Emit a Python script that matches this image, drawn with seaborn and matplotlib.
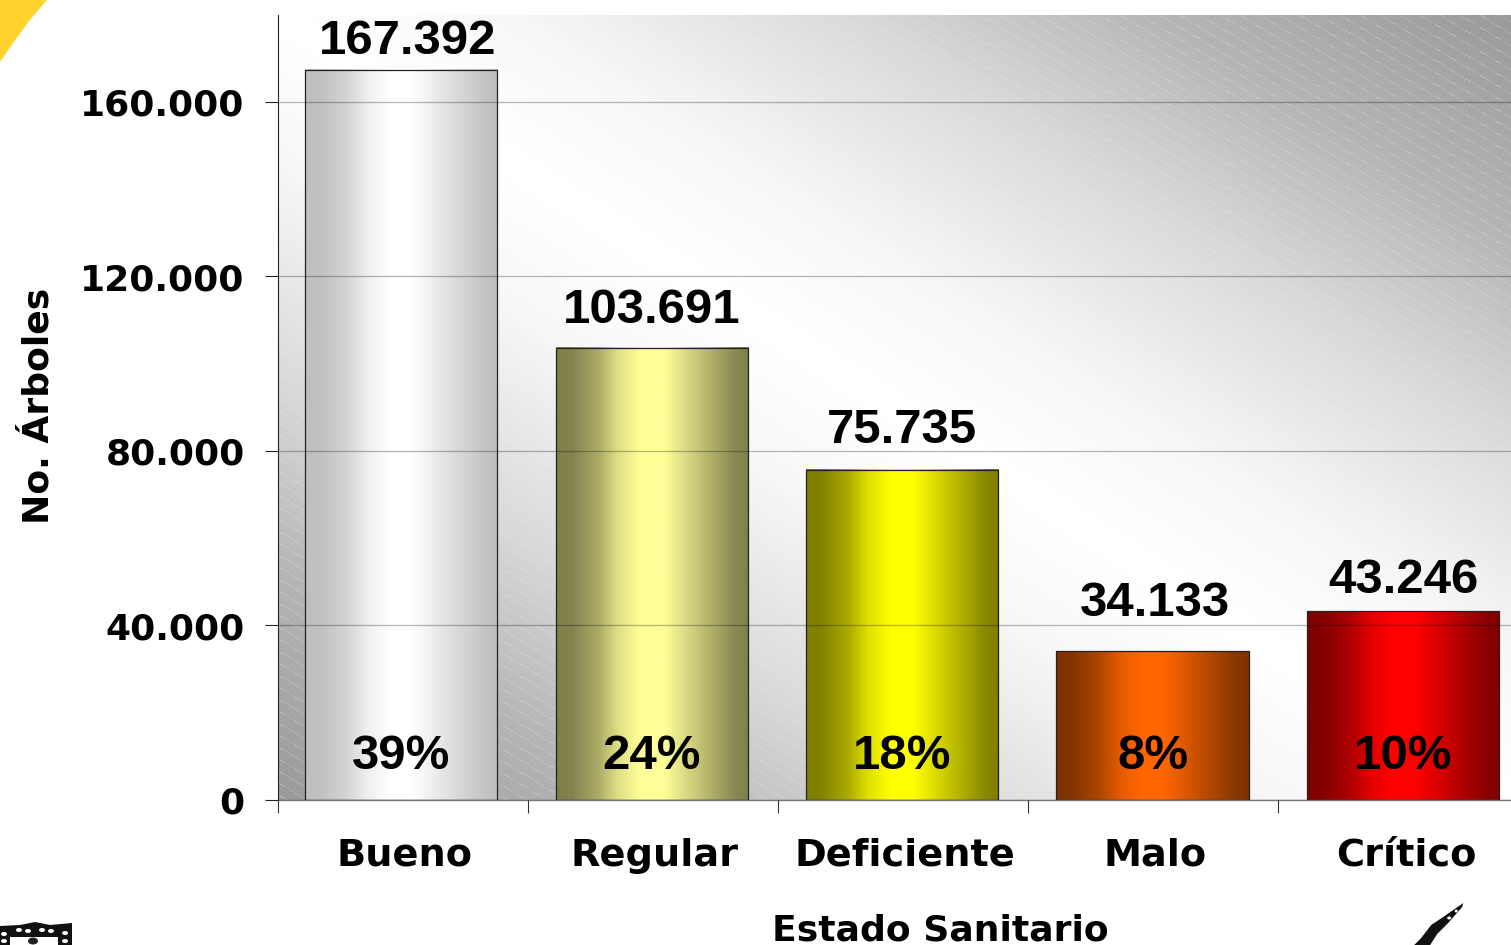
import numpy as np
import pandas as pd
import seaborn as sns
import matplotlib.pyplot as plt
from matplotlib.colors import to_rgb
from matplotlib.patches import Polygon, Ellipse
from matplotlib.transforms import ScaledTranslation

# Datos del grafico
estados = ["Bueno", "Regular", "Deficiente", "Malo", "Crítico"]
arboles = [167392, 103691, 75735, 34133, 43246]
etiquetas = ["167.392", "103.691", "75.735", "34.133", "43.246"]
porcentajes = ["39%", "24%", "18%", "8%", "10%"]
yticks = [0, 40000, 80000, 120000, 160000]
yticklabels = ["0", "40.000", "80.000", "120.000", "160.000"]

colores_claros = ["#FFFFFF", "#FFFF99", "#FFFF00", "#FF6600", "#FF0000"]
colores_oscuros = ["#BFBFBF", "#7F7F4C", "#7F7F00", "#7F3300", "#7F0000"]

W, H = 1511, 945
sns.set_theme(style="white")
plt.rcParams["font.family"] = ["DejaVu Sans"]

df = pd.DataFrame({"estado": estados, "arboles": arboles})

fig = plt.figure(figsize=((W + 0.2) / 100, (H + 0.2) / 100), dpi=100)
ax = fig.add_axes([278 / W, (H - 800) / H, 1250 / W, 785.25 / H])

sns.barplot(data=df, x="estado", y="arboles", hue="estado", palette=colores_claros,
            width=0.768, legend=False, ax=ax, zorder=3)

# Fondo con degradado diagonal y rayas finas
alto, ancho = 786, 1250
yy, xx = np.mgrid[0:alto, 0:ancho]
d = np.abs(xx / 1233 - yy / 786)
gris = np.interp(d, [0, 0.18, 0.27, 0.47, 0.7, 1.0], [255, 247, 238, 216, 182, 153])
rayas = ((yy - 0.6 * xx) % 12 < 1.0) & ((xx + yy) % 3 != 0)
gris = np.where(rayas & (gris < 232), gris + 0.38 * (235 - gris), gris)
ax.imshow(gris, cmap="gray", vmin=0, vmax=255, extent=(0, 1, 0, 1), transform=ax.transAxes,
          aspect="auto", interpolation="nearest", zorder=0)

# Degradado horizontal de cada barra
pos = np.linspace(0, 1, 200)
for barra, claro, oscuro in zip(ax.patches, colores_claros, colores_oscuros):
    c1, c2 = np.array(to_rgb(oscuro)), np.array(to_rgb(claro))
    t = np.interp(pos, [0, 0.08, 0.22, 0.32, 0.44, 0.56, 0.68, 0.82, 0.93, 1],
                  [0, 0.03, 0.35, 0.75, 1, 1, 0.7, 0.35, 0.08, 0])[None, :, None]
    x0, y0 = barra.get_x(), barra.get_y()
    ax.imshow(c1 + (c2 - c1) * t, aspect="auto", zorder=2.5,
              extent=(x0, x0 + barra.get_width(), y0, y0 + barra.get_height()))
    barra.set_facecolor("none")
    barra.set_edgecolor("#222222")
    barra.set_linewidth(0.9)

ax.set_xlim(-0.492, 4.5)
ax.set_ylim(0, 180000)

ax.set_axisbelow(False)
ax.set_yticks(yticks, yticklabels, fontsize=26, fontweight="bold", color="black")
ax.yaxis.grid(True, color="black", alpha=0.28, linewidth=0.95, zorder=1)
for linea in ax.get_ygridlines():
    linea.set_zorder(1)
ax.tick_params(axis="y", length=9.5, width=0.8, color="#222222", pad=14.5, left=True)

# Marcas del eje x entre categorias
ax.set_xticks(np.arange(6) * 0.9984 - 0.492, minor=True)
ax.tick_params(axis="x", which="minor", length=9, width=0.8, color="#333333", bottom=True)
ax.tick_params(axis="x", which="major", length=0, pad=27, labelsize=27.5)
for t in ax.get_xticklabels():
    t.set_fontweight("bold")
    t.set_color("black")
    t.set_transform(t.get_transform() + ScaledTranslation(3 / 100, 0, fig.dpi_scale_trans))

for lado in ["top", "right"]:
    ax.spines[lado].set_visible(False)
ax.spines["left"].set_color("#222222")
ax.spines["left"].set_linewidth(0.8)
ax.spines["bottom"].set_color("#777777")
ax.spines["bottom"].set_linewidth(1.0)

ax.set_xlabel("Estado Sanitario", fontsize=26, fontweight="bold", color="black")
ax.xaxis.set_label_coords((940 - 278) / 1250, -(930 - 800) / 785.25)
ax.xaxis.label.set_va("center")
ax.set_ylabel("No. Árboles", fontsize=26, fontweight="bold", color="black")
ax.yaxis.set_label_coords((38 - 278) / 1250, (800 - 406) / 785.25)
ax.yaxis.label.set_va("center")

# Etiquetas de valor y porcentaje
ajuste_x = [6, 0, 0, 2, 0]
ajuste_y = [6, 15, 17, 25, 8]
for i, (v, txt, pct) in enumerate(zip(arboles, etiquetas, porcentajes)):
    ax.annotate(txt, xy=(i, v), xytext=(ajuste_x[i], ajuste_y[i]), textcoords="offset pixels",
                ha="center", va="bottom", fontsize=35.4, fontweight="bold", color="black",
                family="Liberation Sans", zorder=5)
    ax.annotate(pct, xy=(i, 0), xytext=(0, 21), textcoords="offset pixels",
                ha="center", va="bottom", fontsize=35.4, fontweight="bold", color="black",
                family="Liberation Sans", zorder=5)

# Adornos de la plantilla: esquina amarilla, escudo y pluma
def px(puntos):
    return [(x / W, 1 - y / H) for x, y in puntos]

def poligono(puntos, color):
    fig.add_artist(Polygon(px(puntos), facecolor=color, edgecolor="none", transform=fig.transFigure))

def punto(x, y, ax_w, ax_h, color="white"):
    fig.add_artist(Ellipse((x / W, 1 - y / H), ax_w / W, ax_h / H, facecolor=color,
                           edgecolor="none", transform=fig.transFigure))

poligono([(0, 0), (47, 0), (30, 20), (14, 42), (0, 62)], "#FFD22E")

poligono([(0, 926), (20, 925), (35, 922), (50, 925), (72, 923), (72, 945), (0, 945)], "#111111")
poligono([(10, 937), (58, 937), (58, 945), (10, 945)], "white")
for x, y in [(4, 934), (4, 941), (19, 930), (28, 931), (42, 930), (51, 931), (65, 933), (65, 941)]:
    punto(x, y, 6, 4)
punto(33, 941, 10, 7, "#222222")

poligono([(1463, 903), (1443, 917), (1431, 925), (1421, 938), (1414, 945),
          (1430, 945), (1437, 934), (1448, 923), (1462, 907)], "#111111")
punto(1449, 918, 4, 3)
punto(1456, 911, 3, 3)

fig.savefig("out.png", dpi=100)
